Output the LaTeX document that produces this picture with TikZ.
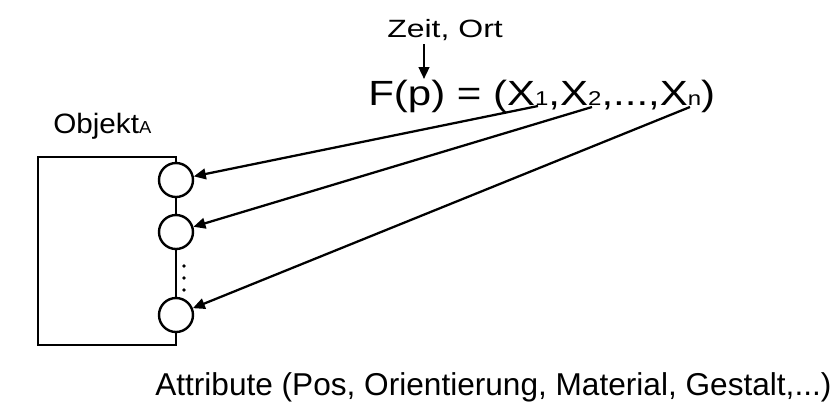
\documentclass[tikz,border=0pt]{standalone}
\usepackage{fontspec}
\setmainfont{Liberation Sans}
\newfontfamily\widefont[FakeStretch=1.28]{Liberation Sans}
\newfontfamily\fpfont[FakeStretch=1.2]{Liberation Sans}
\newfontfamily\objfont[FakeStretch=1.06]{Liberation Sans}
\usetikzlibrary{arrows.meta}
\newcommand\idx[1]{{\fontsize{15}{15}\selectfont #1}}
\tikzset{
  lbl/.style={inner sep=0pt, anchor=base west},
  attrib/.style={circle, draw, fill=white, line width=1.8pt, minimum size=25.5pt, inner sep=0pt},
  pfeil/.style={-{Triangle[length=9pt,width=8pt]}, line width=1.7pt},
}
\begin{document}
\begin{tikzpicture}[x=0.75pt,y=-0.75pt]
	\useasboundingbox (0,0) rectangle (838,401);
	% Objekt mit Attributen
	\node[lbl] (obj) at (53,133) {\objfont\fontsize{21}{21}\selectfont Objekt\fontsize{13}{13}\selectfont A};
	\draw[line width=1.8pt] (38,157) rectangle (176,345);
	\node[attrib] (c1) at (176,180) {};
	\node[attrib] (c2) at (176,232) {};
	\node[attrib] (c3) at (176,315) {};
	\foreach \y in {266,278,290}
		\fill (184,\y) circle (1.4pt);
	% Funktion
	\node[lbl] (zeit) at (387,37) {\widefont\fontsize{18.75}{19}\selectfont Zeit, Ort};
	\node[lbl] (fp) at (368,105) {\fpfont\fontsize{26.25}{27}\selectfont F(p) = (X\idx{1},X\idx{2},...,X\idx{n})};
	\coordinate (za) at (424,44);
	\coordinate (zb) at (424,79);
	\draw[pfeil] (za) -- (zb);
	\coordinate (x1) at (538,106);
	\coordinate (x2) at (592,107);
	\coordinate (xn) at (690,107);
	\draw[pfeil] (x1) -- (c1);
	\draw[pfeil] (x2) -- (c2);
	\draw[pfeil] (xn) -- (c3);
	\node[lbl] (attr) at (155,395) {\fontsize{23.7}{25}\selectfont Attribute (Pos, Orientierung, Material, Gestalt,...)};
\end{tikzpicture}
\end{document}
